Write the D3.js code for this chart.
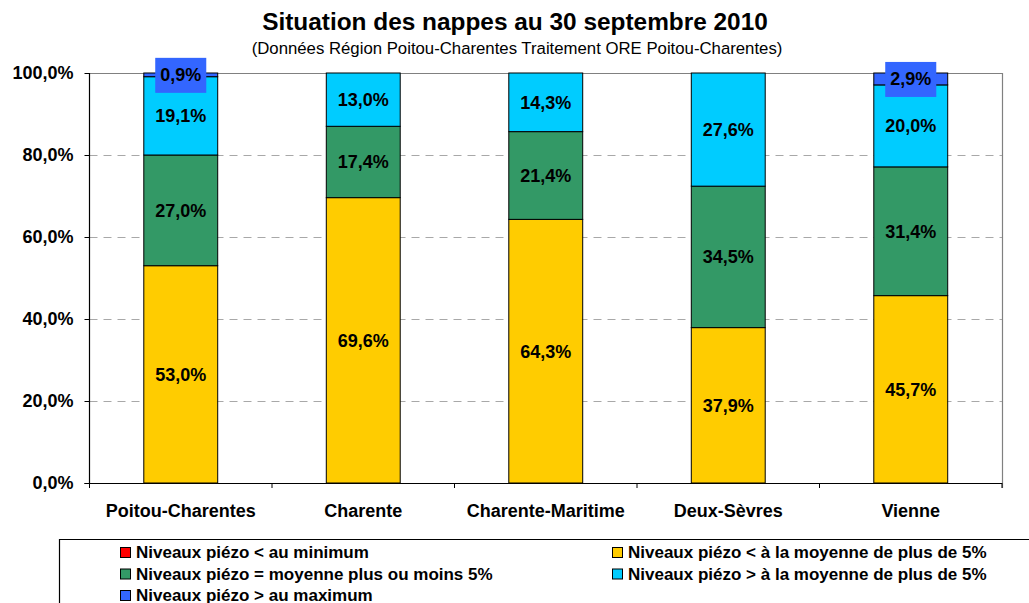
<!DOCTYPE html>
<html>
<head>
<meta charset="utf-8">
<script src="https://cdn.jsdelivr.net/npm/d3@7"></script>
<style>
  html, body { margin: 0; padding: 0; background: #fff; }
  svg { display: block; font-family: "Liberation Sans", Arial, sans-serif; }
</style>
</head>
<body>
<svg id="chart" width="1029" height="603"></svg>
<script>
// ---- Data ----
const categories = ["Poitou-Charentes", "Charente", "Charente-Maritime", "Deux-Sèvres", "Vienne"];
const seriesNames = [
  "Niveaux piézo < au minimum",
  "Niveaux piézo < à la moyenne de plus de 5%",
  "Niveaux piézo = moyenne plus ou moins 5%",
  "Niveaux piézo > à la moyenne de plus de 5%",
  "Niveaux piézo > au maximum"
];
const seriesColors = ["#FF0000", "#FFCC00", "#339966", "#00CCFF", "#3366FF"];
const belowMinimum   = [0, 0, 0, 0, 0];
const belowAverage   = [53.0, 69.6, 64.3, 37.9, 45.7];
const aroundAverage  = [27.0, 17.4, 21.4, 34.5, 31.4];
const aboveAverage   = [19.1, 13.0, 14.3, 27.6, 20.0];
const aboveMaximum   = [0.9, 0, 0, 0, 2.9];
const yTicks = [0, 20, 40, 60, 80, 100];
const titleText = "Situation des nappes au 30 septembre 2010";
const subtitleText = "(Données Région Poitou-Charentes Traitement ORE Poitou-Charentes)";

const seriesValues = [belowMinimum, belowAverage, aroundAverage, aboveAverage, aboveMaximum];

// ---- Layout ----
const svg = d3.select("#chart");
const plot = { left: 89.5, right: 1002, top: 73, bottom: 483 };
const font = '"Liberation Sans", Arial, sans-serif';
const fmt = v => v.toFixed(1).replace(".", ",") + "%";

const x = d3.scaleBand().domain(categories)
  .range([plot.left, plot.right])
  .paddingInner(0.595).paddingOuter(0.2975);
const y = d3.scaleLinear().domain([0, 100]).range([plot.bottom, plot.top]);

// Title
svg.append("text").attr("x", 515).attr("y", 30).attr("text-anchor", "middle")
  .attr("font-size", 24.4).attr("font-weight", "bold").attr("fill", "#000").text(titleText);
svg.append("text").attr("x", 517).attr("y", 54).attr("text-anchor", "middle")
  .attr("font-size", 16.75).attr("fill", "#000").text(subtitleText);

// Gridlines
svg.append("g").selectAll("line").data(yTicks.filter(t => t > 0 && t < 100)).join("line")
  .attr("x1", plot.left).attr("x2", plot.right)
  .attr("y1", d => Math.round(y(d)) + 0.5).attr("y2", d => Math.round(y(d)) + 0.5)
  .attr("stroke", "#a8a8a8").attr("stroke-width", 1).attr("stroke-dasharray", "8,6");

// Plot frame (top & right)
svg.append("path")
  .attr("d", `M${plot.left},${plot.top + 0.5}H${plot.right + 0.5}V${plot.bottom + 5}`)
  .attr("fill", "none").attr("stroke", "#808080").attr("stroke-width", 1.2);

// Stack
const rows = categories.map((c, i) => {
  const r = { cat: c };
  seriesNames.forEach((s, k) => r[s] = seriesValues[k][i]);
  return r;
});
const stack = d3.stack().keys(seriesNames)(rows);

const gBars = svg.append("g");
stack.forEach((layer, k) => {
  gBars.selectAll(null).data(layer.filter(d => d[1] - d[0] > 0)).join("rect")
    .attr("x", d => x(d.data.cat))
    .attr("width", x.bandwidth())
    .attr("y", d => y(d[1]))
    .attr("height", d => y(d[0]) - y(d[1]))
    .attr("fill", seriesColors[k])
    .attr("stroke", "#000").attr("stroke-width", 1);
});

// Labels
const gLab = svg.append("g");
stack.forEach((layer, k) => {
  layer.forEach(d => {
    const v = d[1] - d[0];
    if (v <= 0) return;
    const cx = x(d.data.cat) + x.bandwidth() / 2;
    const cy = (y(d[0]) + y(d[1])) / 2;
    const txt = fmt(v);
    if (k === 4) {
      const t = gLab.append("text").attr("font-size", 18).attr("font-weight", "bold").text(txt);
      const w = t.node().getComputedTextLength();
      t.remove();
      gLab.append("rect")
        .attr("x", cx - w / 2 - 5).attr("y", cy - 17)
        .attr("width", w + 10).attr("height", 35)
        .attr("fill", seriesColors[k]);
    }
    gLab.append("text").attr("x", cx).attr("y", cy)
      .attr("text-anchor", "middle").attr("dy", "0.36em")
      .attr("font-size", 18).attr("font-weight", "bold").attr("fill", "#000")
      .text(txt);
  });
});

// Y axis
const yAxis = d3.axisLeft(y).tickValues(yTicks).tickSize(5).tickPadding(11)
  .tickFormat(d => fmt(d));
const gy = svg.append("g").attr("transform", `translate(${plot.left},0)`).call(yAxis);
gy.select(".domain").remove();
gy.selectAll(".tick line").attr("stroke", "#000");
gy.selectAll(".tick text").attr("font-size", 18).attr("font-weight", "bold")
  .attr("font-family", font).attr("fill", "#000");
svg.append("line").attr("x1", plot.left).attr("x2", plot.left)
  .attr("y1", plot.top).attr("y2", plot.bottom).attr("stroke", "#000").attr("stroke-width", 1.2);

// X axis
const xAxis = d3.axisBottom(x).tickSize(0).tickPadding(21);
const gx = svg.append("g").attr("transform", `translate(0,${plot.bottom})`).call(xAxis);
gx.select(".domain").remove();
gx.selectAll(".tick text").attr("font-size", 18).attr("font-weight", "bold")
  .attr("font-family", font).attr("fill", "#000");
svg.append("line").attr("x1", plot.left - 5).attr("x2", plot.right)
  .attr("y1", plot.bottom + 0.5).attr("y2", plot.bottom + 0.5).attr("stroke", "#000").attr("stroke-width", 1.2);
// category boundary ticks
const bounds = d3.range(categories.length + 1).map(i => plot.left + i * x.step());
svg.append("g").selectAll("line").data(bounds).join("line")
  .attr("x1", d => d).attr("x2", d => d)
  .attr("y1", plot.bottom).attr("y2", plot.bottom + 5)
  .attr("stroke", "#000").attr("stroke-width", 1);

// Legend
const legendBox = { x: 59.5, y: 539.5 };
svg.append("path")
  .attr("d", `M${legendBox.x},${603}V${legendBox.y}H${1029}`)
  .attr("fill", "none").attr("stroke", "#000").attr("stroke-width", 1.2);
const legendPos = [
  { col: 0, row: 0 }, { col: 1, row: 0 },
  { col: 0, row: 1 }, { col: 1, row: 1 },
  { col: 0, row: 2 }
];
const colX = [120, 612];
const rowY = [552, 573.5, 595];
const gLeg = svg.append("g");
seriesNames.forEach((s, k) => {
  const p = legendPos[k];
  gLeg.append("rect")
    .attr("x", colX[p.col] + 0.5).attr("y", rowY[p.row] - 4.5)
    .attr("width", 10).attr("height", 10)
    .attr("fill", seriesColors[k]).attr("stroke", "#000").attr("stroke-width", 1);
  gLeg.append("text")
    .attr("x", colX[p.col] + 16).attr("y", rowY[p.row]).attr("dy", "0.36em")
    .attr("font-size", 17).attr("font-weight", "bold").attr("fill", "#000")
    .text(s);
});
</script>
</body>
</html>
